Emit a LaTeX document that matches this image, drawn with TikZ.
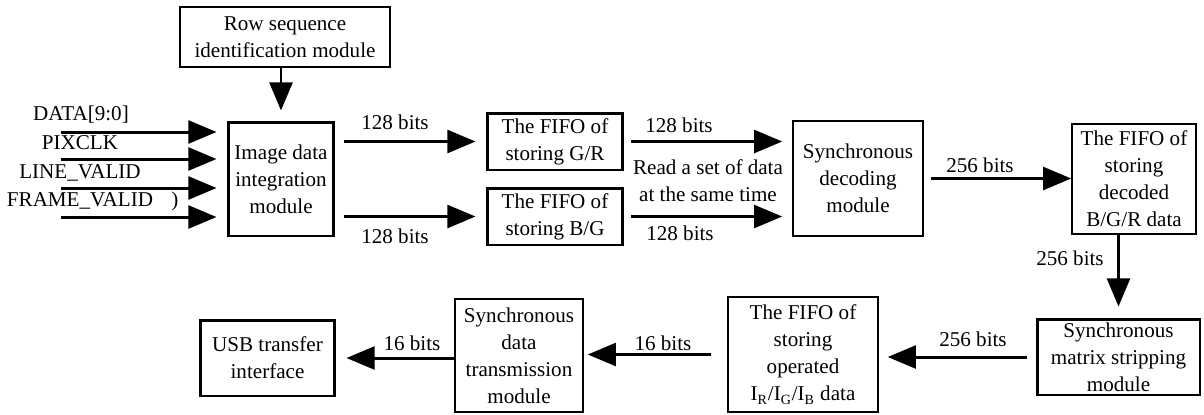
\documentclass[tikz,border=0pt]{standalone}
\usepackage{fontspec}
\setmainfont{Liberation Serif}
\usetikzlibrary{arrows.meta}
\begin{document}
\begin{tikzpicture}[x=0.02cm, y=-0.02cm,
	main/.style = {draw, line width=0.9pt, align=center, inner sep=0pt, font=\fontsize{12}{15.4}\selectfont},
	heavy/.style = {main, line width=1.7pt},
	lbl/.style = {inner sep=0pt, align=center, font=\fontsize{12}{15.4}\selectfont},
	sig/.style = {line width=1.7pt, -{Triangle[length=16pt, width=13pt]}}]
		\useasboundingbox (0,0) rectangle (1204,414);
		\node[main, minimum width=4.2cm, minimum height=1.2cm] (0) at (285,37) {Row sequence\\identification module};
		\node[heavy, minimum width=2.12cm, minimum height=2.28cm] (1) at (281,179) {Image data\\integration\\module};
		\node[heavy, minimum width=2.72cm, minimum height=1.14cm] (2) at (555,141.5) {The FIFO of\\storing G/R};
		\node[heavy, minimum width=2.72cm, minimum height=1.14cm] (3) at (555,216.5) {The FIFO of\\storing B/G};
		\node[main, minimum width=2.6cm, minimum height=2.3cm] (4) at (858,178.5) {Synchronous\\decoding\\module};
		\node[main, minimum width=2.48cm, minimum height=2.2cm] (5) at (1134,179) {The FIFO of\\storing\\decoded\\B/G/R data};
		\node[heavy, minimum width=3.26cm, minimum height=1.52cm] (6) at (1118.5,357) {Synchronous\\matrix stripping\\module};
		\node[main, minimum width=3.0cm, minimum height=2.3cm] (7) at (803,354.5) {The FIFO of\\storing\\operated\\I\textsubscript{R}/I\textsubscript{G}/I\textsubscript{B} data};
		\node[main, minimum width=2.56cm, minimum height=2.26cm] (8) at (519,355.5) {Synchronous\\data\\transmission\\module};
		\node[heavy, minimum width=2.7cm, minimum height=1.52cm] (9) at (267.5,358) {USB transfer\\interface};
		\coordinate (i0) at (61,132);
		\coordinate (i1) at (61,159);
		\coordinate (i2) at (61,188);
		\coordinate (i3) at (61,217);
		\foreach \i in {0,...,3}
			\draw[sig, shorten >=0.2cm] (i\i) -- (i\i -| 1.west);
		\node[lbl] (d0) at (81,115) {DATA[9:0]};
		\node[lbl] (d1) at (80,143) {PIXCLK};
		\node[lbl] (d2) at (80,173) {LINE\_VALID};
		\node[lbl] (d3) at (80,201) {FRAME\_VALID};
		\node[lbl] (d4) at (175,201) {)};
		\draw[sig, shorten >=0.2cm] (1.north |- 0.south) -- (1.north);
		\draw[sig, shorten <=0.18cm, shorten >=0.2cm] (1.east |- 2.west) -- (2.west);
		\draw[sig, shorten <=0.18cm, shorten >=0.2cm] (1.east |- 3.west) -- (3.west);
		\draw[sig, shorten <=0.14cm, shorten >=0.2cm] (2.east) -- (2.east -| 4.west);
		\draw[sig, shorten <=0.14cm, shorten >=0.2cm] (3.east) -- (3.east -| 4.west);
		\draw[sig, shorten <=0.14cm] (4.east) -- (4.east -| 5.west);
		\draw[sig, shorten >=0.22cm] (6.north |- 5.south) -- (6.north);
		\draw[sig, shorten <=0.18cm, shorten >=0.18cm] (6.west) -- (6.west -| 7.east);
		\draw[sig, shorten <=0.32cm, shorten >=0.08cm] (7.west) -- (7.west -| 8.east);
		\draw[sig, shorten >=0.2cm] (8.west |- 9.east) -- (9.east);
		\node[lbl] (b0) at (395,122) {128 bits};
		\node[lbl] (b1) at (395,236) {128 bits};
		\node[lbl] (b2) at (679,125) {128 bits};
		\node[lbl] (b3) at (708,180.5) {Read a set of data\\at the same time};
		\node[lbl] (b4) at (680,233) {128 bits};
		\node[lbl] (b5) at (980,165) {256 bits};
		\node[lbl] (b6) at (1070,258) {256 bits};
		\node[lbl] (b7) at (973,339) {256 bits};
		\node[lbl] (b8) at (663,343) {16 bits};
		\node[lbl] (b9) at (412,343) {16 bits};
	\end{tikzpicture}
\end{document}
